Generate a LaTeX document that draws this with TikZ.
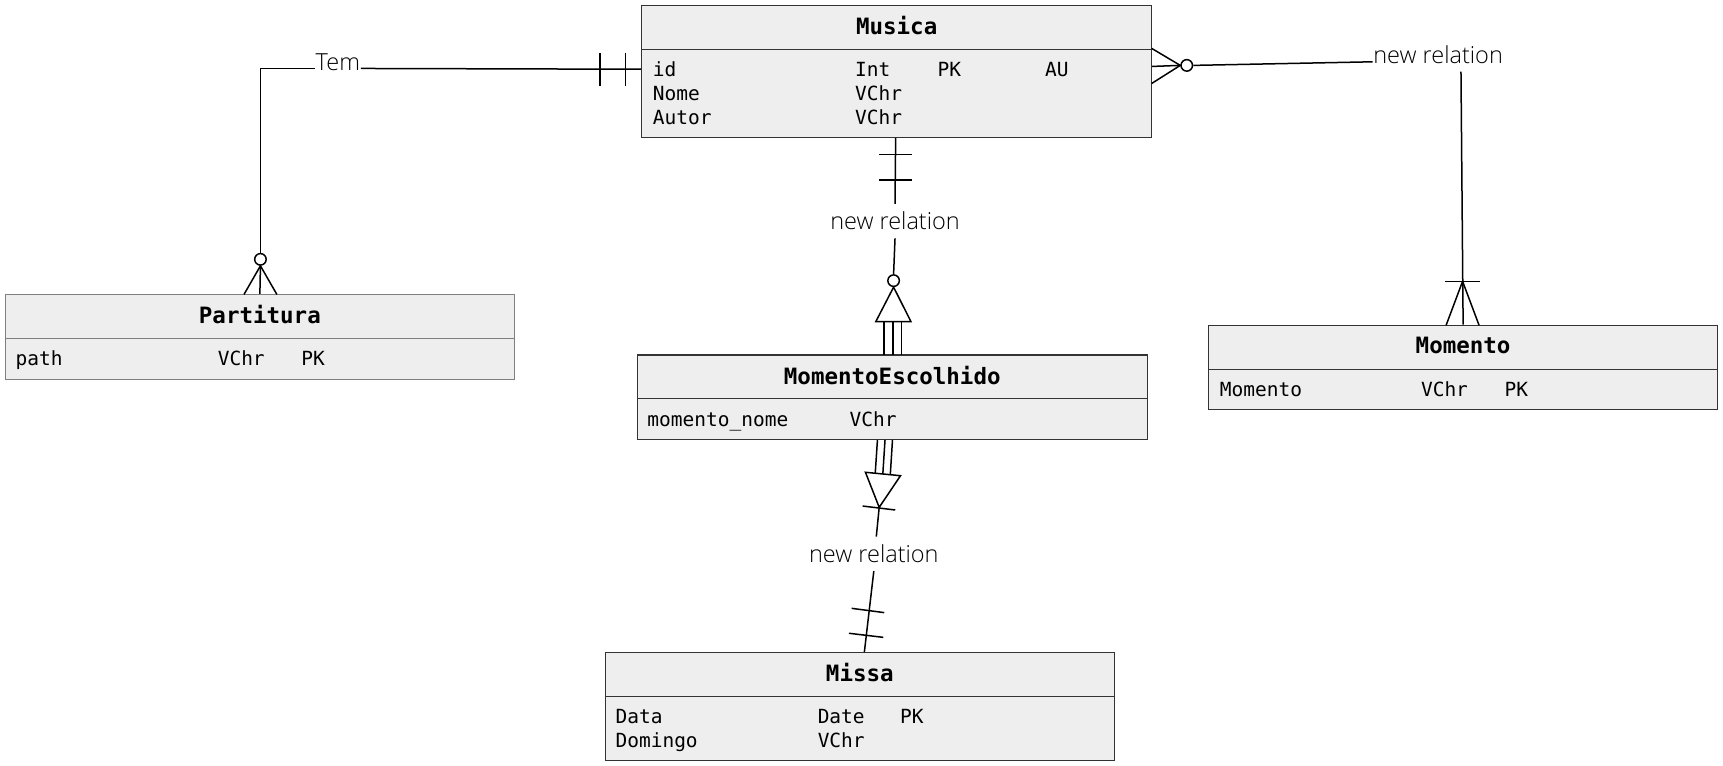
\documentclass[tikz,border=0pt]{standalone}
\usepackage{fontspec}
\setmonofont{DejaVu Sans Mono}
\newfontfamily\lblfont{Open Sans Light}
\usetikzlibrary{fit}
\definecolor{boxfill}{HTML}{EEEEEE}
\definecolor{boxline}{HTML}{333333}
\definecolor{boxlight}{HTML}{7F7F7F}
\begin{document}
\begin{tikzpicture}[x=1.0989pt,y=-1.0989pt,
  entity/.style={draw=boxline, fill=boxfill, line width=1.2pt, inner sep=0pt},
  sepline/.style={draw=boxline, line width=1.2pt},
  etitle/.style={font=\ttfamily\bfseries\fontsize{22.5}{27}\selectfont, anchor=base, inner sep=0pt},
  attr/.style={font=\ttfamily\fontsize{19.5}{23}\selectfont, anchor=base west, inner sep=0pt},
  rel/.style={font=\lblfont\fontsize{23.5}{27}\selectfont, anchor=base, inner xsep=0.5pt, inner ysep=8pt, text=black},
  conn/.style={line width=1.5pt, draw=black},
  zero/.style={circle, draw=black, line width=1.5pt, fill=white, minimum size=11.5pt, inner sep=0pt},
  ]
\useasboundingbox (0,0) rectangle (1568,697);

% ---------- entities ----------
\node[entity, fit={(584,5) (1048,125)}] (musica) {};
\draw[sepline] (584,45) -- (1048,45);
\node[etitle] (musicaT) at (816,31.2) {Musica};
\node[attr] (mu1) at (594,69.5) {id};
\node[attr] (mu2) at (778,69.5) {Int};
\node[attr] (mu3) at (853,69.5) {PK};
\node[attr] (mu4) at (951,69.5) {AU};
\node[attr] (mu5) at (594,91.3) {Nome};
\node[attr] (mu6) at (778,91.3) {VChr};
\node[attr] (mu7) at (594,113.1) {Autor};
\node[attr] (mu8) at (778,113.1) {VChr};

\node[entity, draw=boxlight, fit={(5,268) (468,345)}] (partitura) {};
\draw[sepline, draw=boxlight] (5,308) -- (468,308);
\node[etitle] (partituraT) at (236.5,294) {Partitura};
\node[attr] (pa1) at (14,332.5) {path};
\node[attr] (pa2) at (198,332.5) {VChr};
\node[attr] (pa3) at (274,332.5) {PK};

\node[entity, fit={(1100,296) (1563,373)}] (momento) {};
\draw[sepline] (1100,336) -- (1563,336);
\node[etitle] (momentoT) at (1331.5,322) {Momento};
\node[attr] (mo1) at (1110,360.5) {Momento};
\node[attr] (mo2) at (1293,360.5) {VChr};
\node[attr] (mo3) at (1369,360.5) {PK};

\node[entity, fit={(580,323) (1044,400)}] (momesc) {};
\draw[sepline] (580,363) -- (1044,363);
\node[etitle] (momescT) at (812,349.5) {MomentoEscolhido};
\node[attr] (me1) at (589,387.8) {momento\_nome};
\node[attr] (me2) at (773,387.8) {VChr};

\node[entity, fit={(551,594) (1014,692)}] (missa) {};
\draw[sepline] (551,634) -- (1014,634);
\node[etitle] (missaT) at (782.5,620.5) {Missa};
\node[attr] (mi1) at (560,658.4) {Data};
\node[attr] (mi2) at (744,658.4) {Date};
\node[attr] (mi3) at (819,658.4) {PK};
\node[attr] (mi4) at (560,680.2) {Domingo};
\node[attr] (mi5) at (744,680.2) {VChr};

% ---------- relation labels ----------
\node[rel] (tem) at (307.5,64.3) {Tem};
\node[rel] (r2) at (1308.7,57.6) {new relation};
\node[rel] (r3) at (814.5,209.3) {new relation};
\node[rel] (r4) at (795.2,512) {new relation};

% ---------- optional circles ----------
\node[zero] (k1) at (237,236) {};
\node[zero] (k2) at (1080,59.5) {};
\node[zero] (k3) at (813.2,255.4) {};

% ---------- Musica -- Partitura (Tem) ----------
\draw[conn] ([yshift=2.2pt]musica.west) -- ([yshift=2.2pt]tem.base east);
\draw[conn] ([yshift=2.2pt]tem.base west) -| (k1.north);
\draw[conn] (k1.south) -- (partitura.north);
\draw[conn] (222,268) -- (k1.south) -- (252,268);
\draw[conn] (546,48) -- (546,78);
\draw[conn] (569,48) -- (569,78);

% ---------- Musica -- Momento ----------
\draw[conn] ([yshift=5pt]musica.east) -- (k2.west);
\draw[conn] (1048,44) -- (k2.west) -- (1048,76);
\draw[conn] (k2.east) -- ([yshift=1.5pt]r2.base west);
\draw[conn] ([xshift=22.9pt]r2.south) -- (momento.north);
\draw[conn] (1315,256) -- (1347,256);
\draw[conn] (1316,296) -- (1331,256) -- (1346,296);

% ---------- Musica -- MomentoEscolhido ----------
\draw[conn] ([xshift=-1pt]musica.south) -- (r3.north);
\draw[conn] (800,140.5) -- (830,140.5);
\draw[conn] (800,163.8) -- (830,163.8);
\draw[conn] (r3.south) -- (k3.north);
\draw[conn, fill=white] (k3.south) -- (797,292.7) -- (829,292.7) -- cycle;
\draw[conn] (804.5,292.7) -- (804.5,323);
\draw[conn] (812.5,292.7) -- (812.5,323);
\draw[conn] (820.5,292.7) -- (820.5,323);

% ---------- MomentoEscolhido -- Missa ----------
\draw[conn] (798.5,400.4) -- (796.5,430.7);
\draw[conn] (805.4,400.4) -- (803.4,431.3);
\draw[conn] (812.2,400.4) -- (810.2,432.0);
\draw[conn, fill=white] (787.6,429.8) -- (819.5,432.9) -- (800.1,461.7) -- cycle;
\draw[conn] (785,460.5) -- (814.7,464.1);
\draw[conn] (800.1,461.7) -- ([xshift=2.5pt]r4.north);
\draw[conn] (r4.south) -- ([xshift=4.5pt]missa.north);
\draw[conn] (775,553.6) -- (804.7,557.5);
\draw[conn] (772.6,576.3) -- (803.8,580);
\end{tikzpicture}
\end{document}
